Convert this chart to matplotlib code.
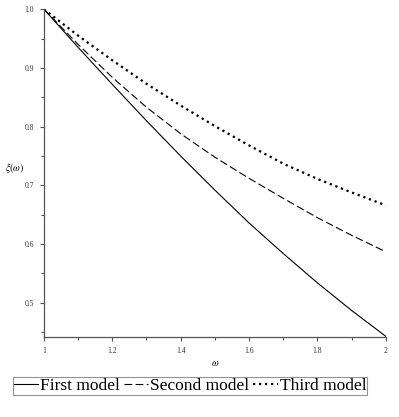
import numpy as np
import matplotlib
matplotlib.use('Agg')
import matplotlib.pyplot as plt
from matplotlib.ticker import MultipleLocator, FormatStrFormatter

# values
omega = [1.0, 1.1, 1.2, 1.3, 1.4, 1.5, 1.6, 1.7, 1.8, 1.9, 2.0]
first_model = [1.0, 0.935, 0.872, 0.810, 0.750, 0.692, 0.636, 0.584, 0.534, 0.487, 0.443]
second_model = [1.0, 0.940, 0.884, 0.833, 0.788, 0.748, 0.712, 0.678, 0.645, 0.615, 0.587]
third_model = [1.0, 0.955, 0.913, 0.873, 0.836, 0.801, 0.768, 0.737, 0.711, 0.688, 0.666]

labels = ['First model', 'Second model', 'Third model']

plt.rcParams['font.family'] = ['Liberation Serif', 'DejaVu Serif']
plt.rcParams['mathtext.fontset'] = 'stix'

fig = plt.figure(figsize=(3.99, 4.17), dpi=100)
ax = fig.add_axes([0.110, 0.192, 0.857, 0.786])

ax.plot(omega, first_model, color='k', lw=0.8, label=labels[0])
ax.plot(omega, second_model, color='k', lw=0.8, linestyle=(0, (7, 3)), label=labels[1])
ax.plot(omega, third_model, color='k', lw=1.6, linestyle=(0, (1, 1.7)), label=labels[2])

ax.set_xlim(1, 2)
ax.set_ylim(0.442, 1.0)

for s in ['top', 'right']:
    ax.spines[s].set_visible(False)
for s in ['left', 'bottom']:
    ax.spines[s].set_color('#555555')
    ax.spines[s].set_linewidth(0.9)

ax.xaxis.set_minor_locator(MultipleLocator(0.1))
ax.yaxis.set_major_locator(MultipleLocator(0.1))
ax.yaxis.set_minor_locator(MultipleLocator(0.05))
ax.yaxis.set_major_formatter(FormatStrFormatter('%.1f'))
ax.set_xticks([1, 1.2, 1.4, 1.6, 1.8, 2])
ax.set_xticklabels(['1', '1.2', '1.4', '1.6', '1.8', '2'])

ax.tick_params(which='both', direction='out', color='#555555', labelsize=5.5, labelcolor='#333333')
ax.tick_params(which='major', length=3, width=0.8, pad=4)
ax.tick_params(which='minor', length=2.5, width=0.8)

ax.set_xlabel(r'$\omega$', fontsize=7, labelpad=3)
ax.set_ylabel(r'$\xi(\omega)$', fontsize=7, rotation=0)
ax.yaxis.set_label_coords(-0.085, 0.494)

leg = fig.legend(loc='center', bbox_to_anchor=(0.476, 0.074), ncol=3, fontsize=12.5,
                 frameon=True, fancybox=False, handlelength=1.4, handletextpad=0.1,
                 columnspacing=0.25, borderpad=0.05, borderaxespad=0)
leg.get_frame().set_edgecolor('#777777')
leg.get_frame().set_linewidth(0.8)

fig.savefig('out.png', dpi=100)
